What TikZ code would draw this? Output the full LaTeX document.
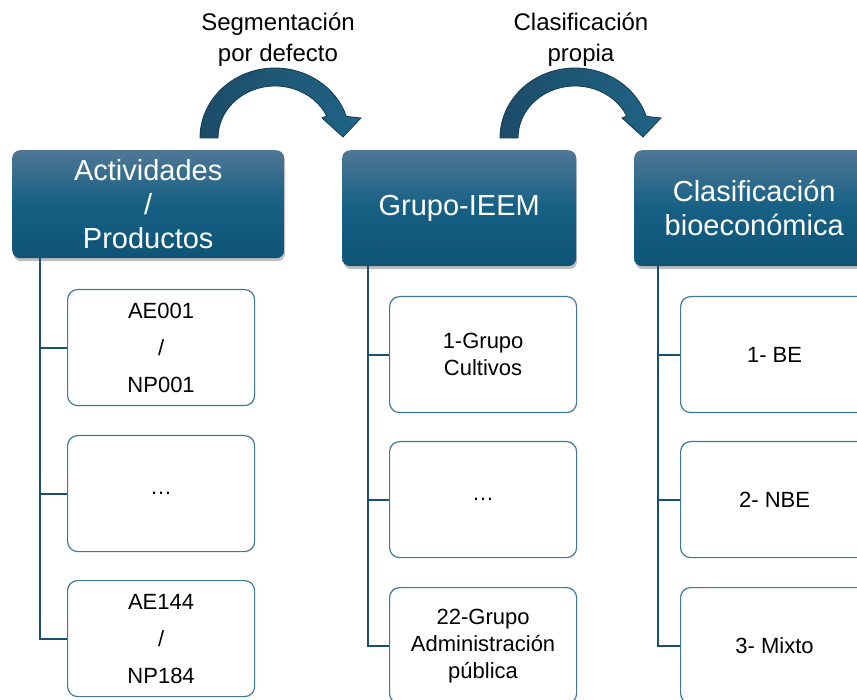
\documentclass[tikz,border=0pt]{standalone}
\usepackage{fontspec}
\setmainfont{Liberation Sans}
\usetikzlibrary{shadows}

\definecolor{hdrtop}{RGB}{80,119,149}
\definecolor{hdrmid}{RGB}{22,96,132}
\definecolor{hdrbot}{RGB}{14,84,118}
\definecolor{leafline}{RGB}{62,122,152}
\definecolor{linkcol}{RGB}{24,80,110}
\definecolor{arrl}{RGB}{28,76,104}
\definecolor{arrr}{RGB}{32,100,134}
\definecolor{arrline}{RGB}{20,58,82}

\begin{document}
\begin{tikzpicture}[x=1pt,y=-1pt,
	hdr/.style={anchor=north west,rounded corners=8pt,top color=hdrtop,bottom color=hdrbot,middle color=hdrmid,
		text=white,align=center,inner sep=0pt,font=\fontsize{29}{34}\selectfont,
		drop shadow={shadow xshift=1pt,shadow yshift=-3pt,opacity=.25,fill=black}},
	leaf/.style={anchor=north west,rounded corners=10pt,draw=leafline,line width=1.2pt,fill=white,
		align=center,inner sep=0pt,minimum width=187pt,minimum height=116pt,font=\fontsize{22}{27}\selectfont},
	link/.style={draw=linkcol,line width=2pt},
	toplbl/.style={align=center,font=\fontsize{24}{31}\selectfont},
	bendarrow/.style={left color=arrl,right color=arrr,draw=arrline,line width=0.8pt}]
	\clip (0,0) rectangle (857,700);

	\node[toplbl] (seglbl) at (278,40) {Segmentación\\por defecto};
	\node[toplbl] (clslbl) at (581,40) {Clasificación\\propia};

	\path[bendarrow] (200,138) arc[start angle=180,end angle=342,x radius=75,y radius=70]
		-- (361,118) -- (343,137) -- (322,118) -- (326.7,116)
		arc[start angle=335,end angle=180,x radius=57,y radius=52] -- cycle;
	\path[bendarrow] (500,138) arc[start angle=180,end angle=342,x radius=75,y radius=70]
		-- (661,118) -- (643,137) -- (622,118) -- (626.7,116)
		arc[start angle=335,end angle=180,x radius=57,y radius=52] -- cycle;

	\node[hdr,minimum width=272pt,minimum height=108pt] (act) at (12,150) {Actividades\\/\\Productos};
	\node[hdr,minimum width=234pt,minimum height=116pt] (grp) at (342,150) {Grupo-IEEM};
	\node[hdr,minimum width=240pt,minimum height=116pt] (cls) at (634,150) {Clasificación\\bioeconómica};

	\node[leaf] (a1) at (67,289) {AE001\\[10pt]/\\[10pt]NP001};
	\node[leaf] (a2) at (67,435) {\dots};
	\node[leaf] (a3) at (67,580) {AE144\\[10pt]/\\[10pt]NP184};

	\node[leaf] (g1) at (389,296) {1-Grupo\\Cultivos};
	\node[leaf] (g2) at (389,441) {\dots};
	\node[leaf] (g3) at (389,587) {22-Grupo\\Administración\\pública};

	\node[leaf,minimum width=188pt] (c1) at (680,296) {1- BE};
	\node[leaf,minimum width=188pt] (c2) at (680,441) {2- NBE};
	\node[leaf,minimum width=188pt] (c3) at (680,587) {3- Mixto};

	\draw[link] ([xshift=28pt]act.south west) |- (a1.west);
	\draw[link] ([xshift=28pt]act.south west) |- (a2.west);
	\draw[link] ([xshift=28pt]act.south west) |- (a3.west);
	\draw[link] ([xshift=26pt]grp.south west) |- (g1.west);
	\draw[link] ([xshift=26pt]grp.south west) |- (g2.west);
	\draw[link] ([xshift=26pt]grp.south west) |- (g3.west);
	\draw[link] ([xshift=24pt]cls.south west) |- (c1.west);
	\draw[link] ([xshift=24pt]cls.south west) |- (c2.west);
	\draw[link] ([xshift=24pt]cls.south west) |- (c3.west);
\end{tikzpicture}
\end{document}
